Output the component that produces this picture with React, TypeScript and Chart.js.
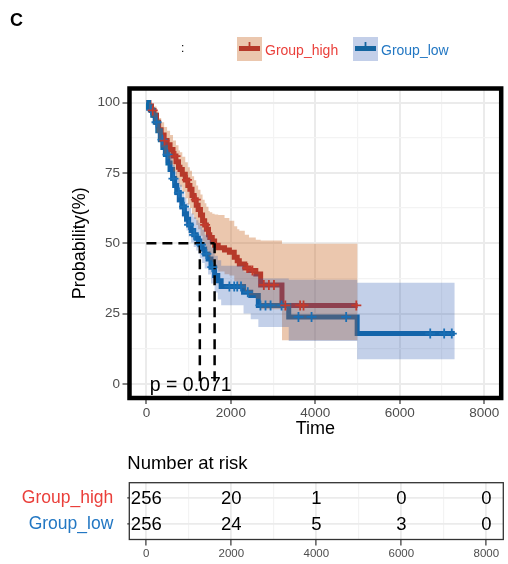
import React, { useEffect, useRef } from "react";
import { Chart, registerables } from "chart.js";

Chart.register(...registerables);

const FONT = '"Liberation Sans", Arial, Helvetica, sans-serif';

// ---------- data ----------
const GROUPS = ["Group_high", "Group_low"];

const HIGH_TIME = [0, 60, 120, 180, 240, 290, 350, 420, 490, 560, 630, 700, 760, 795, 850, 920, 980, 1030, 1080, 1130, 1180, 1225, 1280, 1330, 1380, 1420, 1470, 1500, 1560, 1615, 1700, 1850, 1965, 2080, 2150, 2200, 2330, 2430, 2590, 2705, 3210];
const HIGH_SURV = [100, 98.8, 97.2, 95.5, 93, 90.3, 88.5, 86.5, 85, 83.3, 81, 79, 77, 76.2, 74.5, 72.5, 70.5, 69.2, 67, 65.5, 63.5, 62, 60, 58, 56.5, 55, 53, 52, 50.8, 49.3, 48.4, 47.6, 46.8, 45, 43.8, 42.6, 41.2, 40.3, 39.1, 35.2, 27.9];
const HIGH_UPPER = [100, 100, 99.6, 98.6, 96.8, 94.5, 93, 91.3, 90, 88.5, 86.5, 84.8, 83, 82.3, 80.7, 78.8, 77, 75.8, 73.8, 72.4, 70.5, 69, 67.3, 65.5, 64.2, 63, 61.5, 61, 60.5, 60.2, 60, 59, 58, 56, 55, 54.4, 53, 52, 51.2, 51, 49.8];
const HIGH_LOWER = [100, 97.3, 95, 92.5, 89.3, 86.2, 84, 81.7, 80, 78, 75.5, 73.2, 71, 70.1, 68.3, 66, 63.8, 62.5, 60.2, 58.6, 56.5, 55, 52.7, 50.6, 49, 47.3, 45.2, 44, 42.6, 41, 40, 39, 38.5, 36.5, 35.2, 34, 32.5, 31.5, 30.3, 26.5, 15.5];
const HIGH_END = 5000;
const HIGH_CENSOR = [150, 430, 690, 960, 1170, 1390, 2390, 2510, 2780, 2900, 3020, 3290, 3640, 3720, 4970];

const LOW_TIME = [0, 50, 94, 150, 210, 270, 330, 390, 450, 510, 560, 620, 670, 718, 780, 840, 900, 950, 1000, 1060, 1120, 1180, 1230, 1265, 1320, 1380, 1460, 1530, 1615, 1690, 1770, 2300, 2470, 2650, 3370, 4990];
const LOW_SURV = [100, 98.5, 97.4, 95.5, 93, 90, 86.8, 84, 81.5, 78.5, 76.2, 73, 70.5, 68, 65.5, 63, 60.5, 58.5, 56.5, 54.5, 53, 51.8, 50.8, 49.5, 48, 46.2, 44.4, 41.5, 38.5, 36.7, 34.6, 32.6, 31.4, 27.9, 23.8, 17.9];
const LOW_UPPER = [100, 100, 99.5, 98.3, 96.2, 93.5, 90.7, 88.2, 85.8, 83, 80.8, 77.8, 75.5, 73.2, 70.8, 68.5, 66.2, 64.3, 62.5, 60.6, 59.2, 58.2, 57.3, 56, 54.8, 53, 51.3, 48.5, 45.6, 44, 42, 40, 39, 37.5, 37, 36];
const LOW_LOWER = [100, 97.4, 95.9, 93.5, 90.8, 87.5, 84.1, 81.1, 78.5, 75.3, 73, 69.6, 67, 64.4, 61.8, 59.2, 56.6, 54.5, 52.4, 50.3, 48.7, 47.4, 46.2, 44.7, 43, 41, 38.9, 35.7, 32.5, 30, 28, 25, 23, 20.2, 15.3, 8.8];
const LOW_END = 7300;
const LOW_CENSOR = [110, 240, 380, 500, 640, 770, 890, 1010, 1130, 1290, 1420, 1560, 1965, 2080, 2150, 2240, 2400, 2700, 2820, 2940, 3200, 3600, 3910, 4730, 6720, 7050, 7230];

const MEDIAN_HIGH = 1615;
const MEDIAN_LOW = 1265;
const MEDIAN_LEVEL = 50;
const P_VALUE_TEXT = "p = 0.071";

const X_TICKS = [0, 2000, 4000, 6000, 8000];
const Y_TICKS = [0, 25, 50, 75, 100];

const RISK_TIMES = [0, 2000, 4000, 6000, 8000];
const RISK_HIGH = [256, 20, 1, 0, 0];
const RISK_LOW = [256, 24, 5, 3, 0];

// ---------- styles ----------
const RED_LINE = "#AC2231";
const BLUE_LINE = "#0C6AA8";
const RED_VISIBLE = "#B63A2A";
const BLUE_VISIBLE = "#14649F";
const RED_BAND = "rgba(200,100,30,0.36)";
const BLUE_BAND = "rgba(40,85,175,0.28)";
const RED_KEY = "#EBC7AE";
const BLUE_KEY = "#C3CFE9";
const RED_CENSOR = "#C23A2C";
const BLUE_CENSOR = "#1A6FB5";
const RED_TEXT = "#EA3F3A";
const BLUE_TEXT = "#2277C3";

// ---------- helpers ----------
function stepPoints(times: number[], vals: number[], end: number) {
  const pts = times.map((t, i) => ({ x: t, y: vals[i] }));
  pts.push({ x: end, y: vals[vals.length - 1] });
  return pts;
}
function survAt(times: number[], vals: number[], t: number) {
  let v = vals[0];
  for (let i = 0; i < times.length; i++) {
    if (times[i] <= t) v = vals[i];
    else break;
  }
  return v;
}
function withMinor(major: number[]) {
  const out: number[] = [];
  major.forEach((v, i) => {
    out.push(v);
    if (i < major.length - 1) out.push((v + major[i + 1]) / 2);
  });
  return out;
}

const mainDecor = {
  id: "mainDecor",
  afterDatasetsDraw(chart: any) {
    const { ctx, chartArea: a, scales } = chart;
    ctx.save();
    ctx.font = `19.5px ${FONT}`;
    ctx.fillStyle = "#000";
    ctx.textAlign = "left";
    ctx.textBaseline = "middle";
    ctx.fillText(P_VALUE_TEXT, scales.x.getPixelForValue(80), scales.y.getPixelForValue(0) + 2);
    ctx.lineWidth = 4.5;
    ctx.strokeStyle = "#000";
    ctx.strokeRect(a.left, a.top, a.right - a.left, a.bottom - a.top);
    ctx.restore();
  },
  afterDraw(chart: any) {
    const { ctx } = chart;
    ctx.save();
    ctx.fillStyle = "#000";
    ctx.font = `bold 18px ${FONT}`;
    ctx.textAlign = "left";
    ctx.textBaseline = "middle";
    ctx.fillText("C", 10, 21);
    ctx.font = `12px ${FONT}`;
    ctx.fillText(":", 181, 49);
    const keys = [
      { x: 237, fill: RED_KEY, line: RED_VISIBLE, text: RED_TEXT, label: GROUPS[0] },
      { x: 353, fill: BLUE_KEY, line: BLUE_VISIBLE, text: BLUE_TEXT, label: GROUPS[1] },
    ];
    keys.forEach((k) => {
      ctx.fillStyle = k.fill;
      ctx.fillRect(k.x, 37, 25, 24);
      ctx.strokeStyle = k.line;
      ctx.lineWidth = 5;
      ctx.beginPath();
      ctx.moveTo(k.x + 2, 48.5);
      ctx.lineTo(k.x + 23, 48.5);
      ctx.stroke();
      ctx.lineWidth = 1.8;
      ctx.beginPath();
      ctx.moveTo(k.x + 12.5, 42);
      ctx.lineTo(k.x + 12.5, 49);
      ctx.stroke();
      ctx.fillStyle = k.text;
      ctx.font = `14px ${FONT}`;
      ctx.textBaseline = "middle";
      ctx.fillText(k.label, k.x + 28, 51);
    });
    ctx.restore();
  },
};

const tableDecor = {
  id: "tableDecor",
  afterDatasetsDraw(chart: any) {
    const { ctx, chartArea: a, scales } = chart;
    ctx.save();
    ctx.font = `18.5px ${FONT}`;
    ctx.fillStyle = "#000";
    ctx.textAlign = "center";
    ctx.textBaseline = "middle";
    RISK_TIMES.forEach((t, i) => {
      const x = scales.x.getPixelForValue(t);
      ctx.fillText(String(RISK_HIGH[i]), x, scales.y.getPixelForValue(2) + 1);
      ctx.fillText(String(RISK_LOW[i]), x, scales.y.getPixelForValue(1) + 1);
    });
    ctx.lineWidth = 1.3;
    ctx.strokeStyle = "#333";
    ctx.strokeRect(a.left, a.top, a.right - a.left, a.bottom - a.top);
    ctx.textAlign = "left";
    ctx.font = `18.5px ${FONT}`;
    ctx.fillText("Number at risk", a.left - 2, 19);
    ctx.restore();
  },
};

export default function App() {
  const mainRef = useRef<HTMLCanvasElement>(null);
  const tableRef = useRef<HTMLCanvasElement>(null);

  useEffect(() => {
    const isMajX = (c: any) => c.tick && X_TICKS.includes(c.tick.value);
    const isMajY = (c: any) => c.tick && Y_TICKS.includes(c.tick.value);
    const lineBase = { pointRadius: 0, pointHoverRadius: 0, tension: 0 };
    const band = (data: any, color: string, fill: any) => ({
      ...lineBase,
      data,
      stepped: true,
      borderWidth: 0,
      borderColor: "rgba(0,0,0,0)",
      backgroundColor: color,
      fill,
    });
    const dash = (data: any) => ({
      ...lineBase,
      data,
      borderColor: "#000",
      borderWidth: 2.5,
      borderDash: [10, 6],
      fill: false,
    });
    const censor = (times: number[], t: number[], s: number[], color: string) => ({
      data: times.map((x) => ({ x, y: survAt(t, s, x) })),
      showLine: false,
      pointStyle: "cross",
      pointRadius: 5,
      pointHoverRadius: 5,
      pointBorderWidth: 1.8,
      borderColor: color,
      backgroundColor: color,
      fill: false,
    });

    const main = new Chart(mainRef.current as HTMLCanvasElement, {
      type: "line",
      data: {
        datasets: [
          censor(HIGH_CENSOR, HIGH_TIME, HIGH_SURV, RED_CENSOR),
          censor(LOW_CENSOR, LOW_TIME, LOW_SURV, BLUE_CENSOR),
          dash([{ x: 0, y: MEDIAN_LEVEL }, { x: MEDIAN_HIGH, y: MEDIAN_LEVEL }]),
          dash([{ x: MEDIAN_HIGH, y: MEDIAN_LEVEL }, { x: MEDIAN_HIGH, y: 0 }]),
          dash([{ x: MEDIAN_LOW, y: MEDIAN_LEVEL }, { x: MEDIAN_LOW, y: 0 }]),
          band(stepPoints(LOW_TIME, LOW_UPPER, LOW_END), BLUE_BAND, "+1"),
          band(stepPoints(LOW_TIME, LOW_LOWER, LOW_END), BLUE_BAND, false),
          band(stepPoints(HIGH_TIME, HIGH_UPPER, HIGH_END), RED_BAND, "+1"),
          band(stepPoints(HIGH_TIME, HIGH_LOWER, HIGH_END), RED_BAND, false),
          { ...lineBase, data: stepPoints(LOW_TIME, LOW_SURV, LOW_END), stepped: true, borderColor: BLUE_LINE, borderWidth: 5, fill: false },
          { ...lineBase, data: stepPoints(HIGH_TIME, HIGH_SURV, HIGH_END), stepped: true, borderColor: RED_LINE, borderWidth: 5, fill: false },
        ] as any,
      },
      options: {
        animation: false,
        responsive: false,
        maintainAspectRatio: false,
        events: [],
        layout: { padding: { top: 88.5, right: 3.5, left: 0, bottom: 0 } },
        plugins: { legend: { display: false }, tooltip: { enabled: false }, title: { display: false } },
        scales: {
          x: {
            type: "linear",
            min: -400,
            max: 8400,
            afterBuildTicks: (s: any) => {
              s.ticks = withMinor(X_TICKS).map((v) => ({ value: v }));
            },
            afterFit: (s: any) => {
              s.height = 47;
            },
            ticks: {
              autoSkip: false,
              maxRotation: 0,
              padding: 1,
              color: "#4D4D4D",
              font: { family: FONT, size: 13.5 },
              callback: (v: any) => (X_TICKS.includes(v) ? String(v) : ""),
            },
            grid: {
              color: (c: any) => (isMajX(c) ? "#EBEBEB" : "#F3F3F3"),
              lineWidth: (c: any) => (isMajX(c) ? 2 : 1.2),
              tickLength: 6,
              tickColor: (c: any) => (isMajX(c) ? "#333" : "rgba(0,0,0,0)"),
              tickWidth: 1.2,
            },
            border: { display: false },
            title: { display: true, text: "Time", color: "#000", font: { family: FONT, size: 18 }, padding: { top: 0, bottom: 5 } },
          },
          y: {
            type: "linear",
            min: -5,
            max: 105,
            afterBuildTicks: (s: any) => {
              s.ticks = withMinor(Y_TICKS).map((v) => ({ value: v }));
            },
            afterFit: (s: any) => {
              s.width = 129.5;
            },
            ticks: {
              autoSkip: false,
              padding: 2.5,
              color: "#4D4D4D",
              font: { family: FONT, size: 13.5 },
              callback: (v: any) => (Y_TICKS.includes(v) ? String(v) : ""),
            },
            grid: {
              color: (c: any) => (isMajY(c) ? "#EBEBEB" : "#F3F3F3"),
              lineWidth: (c: any) => (isMajY(c) ? 2 : 1.2),
              tickLength: 7,
              tickColor: (c: any) => (isMajY(c) ? "#333" : "rgba(0,0,0,0)"),
              tickWidth: 1.2,
            },
            border: { display: false },
            title: { display: true, text: "Probability(%)", color: "#000", font: { family: FONT, size: 18 }, padding: { top: 69, bottom: 0 } },
          },
        },
      } as any,
      plugins: [mainDecor],
    });

    const table = new Chart(tableRef.current as HTMLCanvasElement, {
      type: "line",
      data: { datasets: [] },
      options: {
        animation: false,
        responsive: false,
        maintainAspectRatio: false,
        events: [],
        layout: { padding: { top: 37.7, right: 4.7, left: 0, bottom: 0 } },
        plugins: { legend: { display: false }, tooltip: { enabled: false } },
        scales: {
          x: {
            type: "linear",
            min: -400,
            max: 8400,
            afterBuildTicks: (s: any) => {
              s.ticks = withMinor(X_TICKS).map((v) => ({ value: v }));
            },
            afterFit: (s: any) => {
              s.height = 24;
            },
            ticks: {
              autoSkip: false,
              maxRotation: 0,
              padding: 1,
              color: "#4D4D4D",
              font: { family: FONT, size: 11.5 },
              callback: (v: any) => (X_TICKS.includes(v) ? String(v) : ""),
            },
            grid: {
              color: (c: any) => (isMajX(c) ? "#EBEBEB" : "#F3F3F3"),
              lineWidth: (c: any) => (isMajX(c) ? 1.8 : 1.2),
              tickLength: 6,
              tickColor: (c: any) => (isMajX(c) ? "#333" : "rgba(0,0,0,0)"),
              tickWidth: 1.2,
            },
            border: { display: false },
          },
          y: {
            type: "linear",
            min: 0.4,
            max: 2.6,
            afterBuildTicks: (s: any) => {
              s.ticks = [{ value: 1 }, { value: 2 }];
            },
            afterFit: (s: any) => {
              s.width = 129.3;
            },
            ticks: {
              autoSkip: false,
              padding: 14,
              font: { family: FONT, size: 17.5 },
              color: (c: any) => (c.tick && c.tick.value === 2 ? RED_TEXT : BLUE_TEXT),
              callback: (v: any) => (v === 2 ? GROUPS[0] : GROUPS[1]),
            },
            grid: {
              color: "#EBEBEB",
              lineWidth: 1.8,
              tickLength: 2,
              tickColor: "#333",
              tickWidth: 1.2,
            },
            border: { display: false },
          },
        },
      } as any,
      plugins: [tableDecor],
    });

    return () => {
      main.destroy();
      table.destroy();
    };
  }, []);

  return (
    <div style={{ position: "fixed", left: 0, top: 0, width: 508, height: 564, background: "#fff" }}>
      <canvas ref={mainRef} width={508} height={445} style={{ position: "absolute", left: 0, top: 0, width: 508, height: 445 }} />
      <canvas ref={tableRef} width={508} height={119} style={{ position: "absolute", left: 0, top: 445, width: 508, height: 119 }} />
    </div>
  );
}
